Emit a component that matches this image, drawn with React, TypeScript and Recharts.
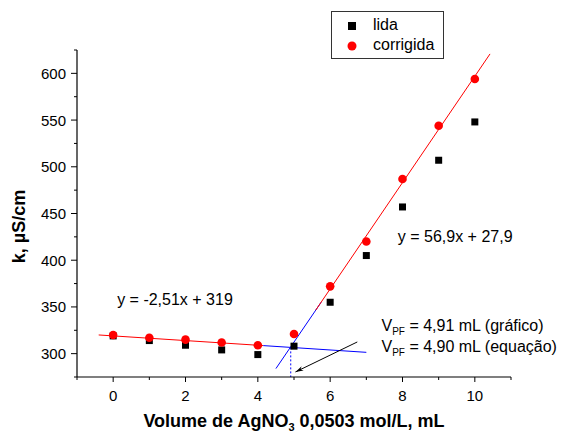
import React from 'react';
import { ComposedChart, Line, Scatter, XAxis, YAxis, ReferenceDot, Legend } from 'recharts';

const volume = [0, 1, 2, 3, 4, 5, 6, 7, 8, 9, 10];
const lida = [319, 314, 309, 304, 299, 308, 355, 405, 457, 507, 548];
const corrigida = [320, 317, 315, 312, 309, 321, 372, 420, 487, 544, 594];
const seriesNames = ['lida', 'corrigida'];

const xTicks = [-1, 0, 1, 2, 3, 4, 5, 6, 7, 8, 9, 10, 11];
const yTicks = [275, 300, 325, 350, 375, 400, 425, 450, 475, 500, 525, 550, 575, 600, 625];

// fitted lines, end points
const fitLowRed = [{ x: -0.4, y: 320 }, { x: 4.15, y: 308.6 }];
const fitLowBlue = [{ x: 4.15, y: 308.6 }, { x: 7, y: 301.4 }];
const fitHighBlue = [{ x: 4.5, y: 284 }, { x: 5.75, y: 355 }];
const fitHighRed = [{ x: 5.6, y: 346.5 }, { x: 10.42, y: 620.8 }];
const endPoint = [{ x: 4.91, y: 306.7 }, { x: 4.91, y: 275 }];
const arrow = [{ x: 6.75, y: 312.5 }, { x: 5.04, y: 280.4 }];

const equations = [
  { x: 0.11, y: 352, text: 'y = -2,51x + 319' },
  { x: 7.87, y: 420, text: 'y = 56,9x + 27,9' },
];
const vpf = [
  { x: 7.42, y: 324, text: ' = 4,91 mL (gráfico)' },
  { x: 7.42, y: 302, text: ' = 4,90 mL (equação)' },
];

const lidaData = volume.map((x, i) => ({ x, y: lida[i] }));
const corrigidaData = volume.map((x, i) => ({ x, y: corrigida[i] }));

const FONT = '"Liberation Sans", Arial, sans-serif';

const XTick = (props: any) => {
  const { x, y, payload } = props;
  const major = payload.value % 2 === 0;
  return (
    <g>
      <line x1={x} y1={y} x2={x} y2={y + (major ? 5 : 3)} stroke="#000" />
      {major && (
        <text x={x} y={y + 24} textAnchor="middle" fontSize={15} fontFamily={FONT} fill="#000">
          {payload.value}
        </text>
      )}
    </g>
  );
};

const YTick = (props: any) => {
  const { x, y, payload } = props;
  const major = payload.value % 50 === 0;
  return (
    <g>
      <line x1={x} y1={y} x2={x - (major ? 6 : 3)} y2={y} stroke="#000" />
      {major && (
        <text x={x - 11} y={y + 5.5} textAnchor="end" fontSize={15} fontFamily={FONT} fill="#000">
          {payload.value}
        </text>
      )}
    </g>
  );
};

const XTitle = (props: any) => {
  const vb = props.viewBox;
  return (
    <text x={vb.x + vb.width / 2} y={vb.y + 50} textAnchor="middle" fontSize={18} fontWeight="bold" fontFamily={FONT} fill="#000">
      Volume de AgNO<tspan dy={4} fontSize={11}>3</tspan><tspan dy={-4}> 0,0503 mol/L, mL</tspan>
    </text>
  );
};

const YTitle = (props: any) => {
  const vb = props.viewBox;
  const cx = vb.x + 19;
  const cy = vb.y + vb.height / 2 + 13;
  return (
    <text x={cx} y={cy} transform={`rotate(-90, ${cx}, ${cy})`} textAnchor="middle" dominantBaseline="central" fontSize={18} fontWeight="bold" fontFamily={FONT} fill="#000">
      k, µS/cm
    </text>
  );
};

const LegendBox = (props: any) => {
  const items = (props.payload || [])
    .filter((p: any) => seriesNames.includes(p.value) && p.type !== 'none')
    .sort((a: any, b: any) => seriesNames.indexOf(a.value) - seriesNames.indexOf(b.value));
  return (
    <div style={{ border: '1px solid #333', width: 113, height: 48, boxSizing: 'border-box', fontFamily: FONT, fontSize: 16, background: '#fff' }}>
      {items.map((p: any, i: number) => (
        <div key={i} style={{ position: 'relative', height: 20, marginTop: i === 0 ? 4 : 0 }}>
          <svg width={14} height={14} style={{ position: 'absolute', left: 13, top: 3 }}>
            {p.value === 'lida' ? <rect x={3} y={3} width={8} height={8} fill="#000" /> : <circle cx={7} cy={7} r={4.5} fill="#ff0000" />}
          </svg>
          <span style={{ position: 'absolute', left: 41, top: 0 }}>{p.value}</span>
        </div>
      ))}
    </div>
  );
};

export default function App() {
  return (
    <div style={{ position: 'absolute', left: 0, top: 0, width: 572, height: 435, background: '#fff' }}>
      <svg width={0} height={0} style={{ position: 'absolute' }}>
        <defs>
          <marker id="arrowhead" viewBox="0 0 10 10" refX="10" refY="5" markerWidth="8" markerHeight="8" orient="auto">
            <path d="M0,2 L10,5 L0,8 L3,5 z" fill="#000" />
          </marker>
        </defs>
      </svg>
      <ComposedChart width={572} height={435} margin={{ top: 50, right: 61, bottom: 0, left: 0 }}>
        <XAxis
          dataKey="x"
          type="number"
          domain={[-1, 11]}
          ticks={xTicks}
          interval={0}
          tickSize={0}
          tickMargin={0}
          tickLine={false}
          tick={<XTick />}
          axisLine={{ stroke: '#000', strokeWidth: 1.2 }}
          height={58}
          allowDataOverflow
          label={XTitle}
        />
        <YAxis
          type="number"
          domain={[275, 625]}
          ticks={yTicks}
          interval={0}
          tickSize={0}
          tickMargin={0}
          tickLine={false}
          tick={<YTick />}
          axisLine={{ stroke: '#000', strokeWidth: 1.2 }}
          width={77}
          allowDataOverflow
          label={YTitle}
        />
        <Legend
          layout="horizontal"
          verticalAlign="middle"
          align="center"
          content={<LegendBox />}
          wrapperStyle={{ position: 'absolute', left: 331, top: 11, width: 113, height: 48 }}
        />
        <Line data={fitLowRed} dataKey="y" stroke="#ff0000" strokeWidth={1} dot={false} activeDot={false} legendType="none" isAnimationActive={false} />
        <Line data={fitLowBlue} dataKey="y" stroke="#0000ff" strokeWidth={1} dot={false} activeDot={false} legendType="none" isAnimationActive={false} />
        <Line data={fitHighBlue} dataKey="y" stroke="#0000ff" strokeWidth={1} dot={false} activeDot={false} legendType="none" isAnimationActive={false} />
        <Line data={fitHighRed} dataKey="y" stroke="#ff0000" strokeWidth={1} dot={false} activeDot={false} legendType="none" isAnimationActive={false} />
        <Line data={endPoint} dataKey="y" stroke="#0000ff" strokeWidth={1} strokeDasharray="2 2" dot={false} activeDot={false} legendType="none" isAnimationActive={false} />
        <Line data={arrow} dataKey="y" stroke="#000" strokeWidth={1} markerEnd="url(#arrowhead)" dot={false} activeDot={false} legendType="none" isAnimationActive={false} />
        <Scatter
          name="lida"
          data={lidaData}
          dataKey="y"
          fill="#000"
          isAnimationActive={false}
          shape={(p: any) => <rect x={p.cx - 3.5} y={p.cy - 3.5} width={7} height={7} fill="#000" />}
        />
        <Scatter
          name="corrigida"
          data={corrigidaData}
          dataKey="y"
          fill="#ff0000"
          isAnimationActive={false}
          shape={(p: any) => <circle cx={p.cx} cy={p.cy} r={4.3} fill="#ff0000" />}
        />
        {equations.map((e, i) => (
          <ReferenceDot
            key={'eq' + i}
            x={e.x}
            y={e.y}
            r={0}
            shape={(p: any) => (
              <text x={p.cx} y={p.cy} fontSize={16} fontFamily={FONT} fill="#000">{e.text}</text>
            )}
          />
        ))}
        {vpf.map((e, i) => (
          <ReferenceDot
            key={'vpf' + i}
            x={e.x}
            y={e.y}
            r={0}
            shape={(p: any) => (
              <text x={p.cx} y={p.cy} fontSize={16} fontFamily={FONT} fill="#000">
                V<tspan dy={4} fontSize={10}>PF</tspan><tspan dy={-4}>{e.text}</tspan>
              </text>
            )}
          />
        ))}
      </ComposedChart>
    </div>
  );
}
